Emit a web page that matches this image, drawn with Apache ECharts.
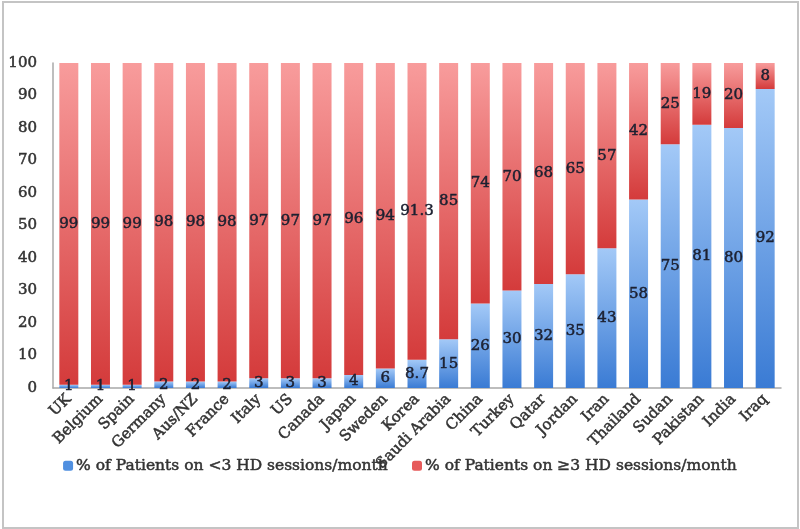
<!DOCTYPE html>
<html>
<head>
<meta charset="utf-8">
<script src="https://cdn.jsdelivr.net/npm/echarts@6/dist/echarts.min.js"></script>
<style>
html,body{margin:0;padding:0;background:#fff;}
#frame{position:absolute;left:2px;top:1px;width:793px;height:524px;border:2px solid #c4c4c4;box-sizing:content-box;}
#chart{position:absolute;left:0;top:0;width:800px;height:529px;}
</style>
</head>
<body>
<div id="frame"></div>
<div id="chart"></div>
<script>
const categories = ['UK','Belgium','Spain','Germany','Aus/NZ','France','Italy','US','Canada','Japan','Sweden','Korea','Saudi Arabia','China','Turkey','Qatar','Jordan','Iran','Thailand','Sudan','Pakistan','India','Iraq'];
const lessThan3 = [1,1,1,2,2,2,3,3,3,4,6,8.7,15,26,30,32,35,43,58,75,81,80,92];
const atLeast3 = [99,99,99,98,98,98,97,97,97,96,94,91.3,85,74,70,68,65,57,42,25,19,20,8];
const yTicks = [0,10,20,30,40,50,60,70,80,90,100];
const seriesNames = ['% of Patients on <3 HD sessions/month','% of Patients on \u22653 HD sessions/month'];

const font = 'DejaVu Serif';
const chart = echarts.init(document.getElementById('chart'));
const blueGrad = new echarts.graphic.LinearGradient(0,0,0,1,[{offset:0,color:'#a3c9f7'},{offset:1,color:'#3a7bd4'}]);
const redGrad = new echarts.graphic.LinearGradient(0,0,0,1,[{offset:0,color:'#f89c9c'},{offset:1,color:'#d43b3b'}]);
const txt = (size,color)=>({fontFamily:font,fontSize:size,color:color,textBorderColor:color,textBorderWidth:0.5});
const labelStyle = Object.assign({show:true,position:'inside'},txt(15,'#1c2030'));
chart.setOption({
  backgroundColor:'transparent',
  animation:false,
  grid:{left:53,right:19,top:63,bottom:141,containLabel:false},
  legend:{
    bottom:50,left:'center',itemWidth:10,itemHeight:10,itemGap:24,
    textStyle:Object.assign({padding:[0,0,0,-2]},txt(15.5,'#333')),
    data:[{name:seriesNames[0],itemStyle:{color:'#4f8fe0'}},{name:seriesNames[1],itemStyle:{color:'#e65a5a'}}]
  },
  xAxis:{
    type:'category',data:categories,
    axisLine:{show:true,lineStyle:{color:'#a8a8a8',width:1.5}},
    axisTick:{show:false},
    axisLabel:Object.assign({rotate:45,interval:0,margin:9},txt(15,'#333'))
  },
  yAxis:{
    type:'value',min:0,max:100,interval:10,
    splitLine:{show:false},
    axisLine:{show:true,lineStyle:{color:'#a8a8a8',width:1.5}},
    axisTick:{show:false},
    axisLabel:Object.assign({margin:16,formatter:v=>yTicks.includes(v)?String(v):''},txt(15,'#333'))
  },
  series:[
    {name:seriesNames[0],type:'bar',stack:'a',data:lessThan3,barWidth:'60%',
     itemStyle:{color:blueGrad},label:labelStyle},
    {name:seriesNames[1],type:'bar',stack:'a',data:atLeast3,barWidth:'60%',
     itemStyle:{color:redGrad},label:labelStyle}
  ]
});
</script>
</body>
</html>
